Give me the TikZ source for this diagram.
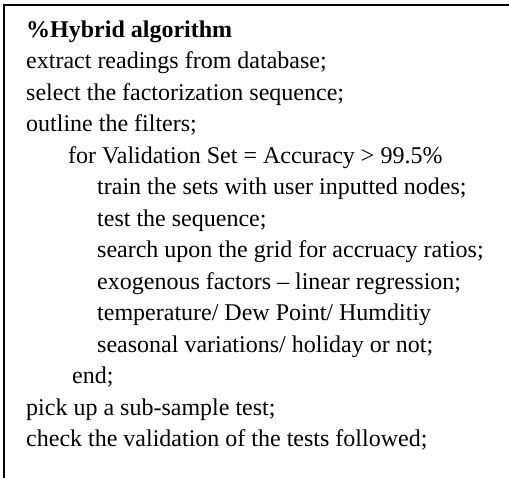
\documentclass[tikz,border=0pt]{standalone}
\usepackage{fontspec}
\setmainfont{Liberation Serif}
\begin{document}
\begin{tikzpicture}[x=1pt,y=-1pt,
  line/.style={anchor=base west,inner sep=0pt,font=\fontsize{24}{28}\selectfont},
  frame/.style={line width=2pt,line cap=rect}]
\useasboundingbox (0,0) rectangle (509,477);
\coordinate (tr) at (509,4.5);
\coordinate (tl) at (4.3,4.5);
\coordinate (bl) at (4.3,477);
\draw[frame] (tr) -- (tl) -- (bl);
\def\s{31.5}
\node[line] (l1) at (26,37) {\textbf{\%Hybrid algorithm}};
\node[line] (l2) at (26,37+\s) {extract readings from database;};
\node[line] (l3) at (26,37+2*\s) {select the factorization sequence;};
\node[line] (l4) at (26,37+3*\s) {outline the filters;};
\node[line] (l5) at (68,37+4*\s) {for Validation Set = Accuracy > 99.5\%};
\node[line] (l6) at (97,37+5*\s) {train the sets with user inputted nodes;};
\node[line] (l7) at (97,37+6*\s) {test the sequence;};
\node[line] (l8) at (97,37+7*\s) {search upon the grid for accruacy ratios;};
\node[line] (l9) at (97,37+8*\s) {exogenous factors – linear regression;};
\node[line] (l10) at (97,37+9*\s) {temperature/ Dew Point/ Humditiy};
\node[line] (l11) at (97,37+10*\s) {seasonal variations/ holiday or not;};
\node[line] (l12) at (72,37+11*\s) {end;};
\node[line] (l13) at (26,37+12*\s) {pick up a sub-sample test;};
\node[line] (l14) at (26,37+13*\s) {check the validation of the tests followed;};
\end{tikzpicture}
\end{document}
